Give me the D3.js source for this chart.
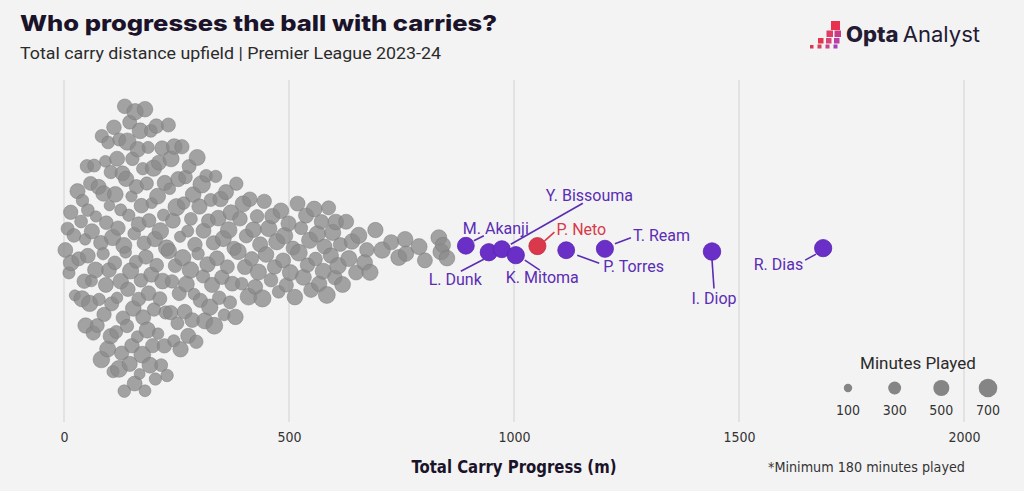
<!DOCTYPE html>
<html><head><meta charset="utf-8">
<script src="https://cdn.jsdelivr.net/npm/d3@7"></script>
<style>body{margin:0;background:#f3f3f3;overflow:hidden}</style>
</head><body><svg id="c" width="1024" height="491"></svg>
<script>
// ---------- DATA ----------
const grayCarry = [
  3, 8, 11, 15, 16, 22, 24, 30, 33, 38,
  40, 41, 45, 47, 48, 51, 53, 53, 57, 59,
  61, 62, 65, 67, 70, 71, 74, 77, 78, 82,
  83, 84, 87, 88, 89, 92, 93, 94, 97, 98,
  100, 101, 104, 104, 106, 108, 109, 111, 113, 114,
  116, 118, 118, 120, 122, 123, 126, 126, 128, 130,
  131, 133, 134, 135, 137, 138, 140, 141, 142, 144,
  146, 146, 148, 150, 151, 152, 154, 156, 157, 158,
  160, 161, 163, 164, 166, 166, 168, 169, 171, 172,
  174, 175, 176, 178, 180, 180, 182, 184, 185, 187,
  188, 189, 191, 193, 194, 195, 197, 199, 200, 202,
  203, 205, 206, 208, 209, 211, 213, 214, 216, 218,
  219, 221, 223, 224, 226, 228, 229, 232, 233, 235,
  237, 238, 240, 242, 244, 245, 247, 250, 252, 254,
  256, 258, 259, 262, 264, 266, 268, 270, 272, 275,
  276, 278, 281, 282, 285, 287, 289, 291, 294, 296,
  298, 301, 303, 306, 309, 310, 313, 316, 319, 321,
  324, 326, 329, 332, 334, 337, 340, 343, 345, 348,
  351, 354, 356, 360, 363, 366, 369, 371, 374, 378,
  381, 383, 387, 391, 395, 398, 402, 405, 410, 413,
  417, 421, 425, 429, 432, 436, 441, 445, 449, 455,
  460, 463, 468, 473, 477, 482, 487, 490, 494, 499,
  503, 509, 513, 519, 522, 527, 532, 538, 541, 546,
  549, 556, 559, 563, 567, 572, 576, 579, 584, 588,
  593, 597, 602, 604, 609, 614, 619, 627, 633, 640,
  649, 655, 668, 673, 680, 692, 707, 727, 744, 758,
  760, 789, 802, 833, 838, 842, 851
];
const grayMinutes = [
  420, 310, 260, 390, 480, 350, 205, 440, 370, 300,
  510, 280, 395, 230, 460, 335, 415, 290, 520, 365,
  250, 445, 380, 305, 490, 215, 360, 430, 275, 400,
  540, 320, 270, 470, 385, 240, 425, 350, 500, 295,
  410, 190, 455, 330, 375, 520, 265, 405, 345, 480,
  300, 435, 225, 390, 560, 315, 470, 255, 380, 425,
  350, 505, 285, 410, 240, 455, 330, 600, 395, 270,
  445, 360, 515, 220, 400, 335, 475, 290, 420, 530,
  310, 385, 250, 465, 355, 420, 200, 490, 340, 405,
  565, 280, 430, 375, 245, 470, 395, 320, 510, 260,
  415, 350, 485, 295, 440, 210, 380, 525, 330, 455,
  270, 400, 345, 495, 230, 425, 365, 545, 300, 410,
  480, 255, 390, 440, 320, 515, 280, 370, 460, 235,
  395, 505, 330, 420, 265, 475, 350, 580, 300, 440,
  370, 215, 455, 390, 520, 285, 410, 345, 490, 255,
  430, 360, 540, 300, 415, 470, 240, 395, 335, 500,
  275, 450, 380, 610, 325, 425, 505, 290, 460, 360,
  525, 310, 440, 385, 560, 270, 415, 480, 340, 455,
  395, 500, 250, 435, 365, 545, 310, 470, 420, 380,
  460, 330, 515, 405, 285, 495, 430, 360, 550, 400,
  375, 480, 420, 330, 510, 445, 585, 390, 470, 525,
  350, 455, 400, 520, 290, 475, 430, 540, 380, 445,
  500, 365, 470, 425, 555, 310, 490, 440, 395, 520,
  410, 480, 345, 530, 460, 390, 500, 425, 565, 370,
  450, 515, 400, 475, 545, 360, 490, 430, 505, 470,
  420, 520, 480, 395, 510, 455, 530, 440, 495, 470,
  460, 505, 430, 490, 520, 450, 480
];
const highlightNames   = ["M. Akanji","L. Dunk","Y. Bissouma","K. Mitoma","P. Neto","P. Torres","T. Ream","I. Diop","R. Dias"];
const highlightCarry   = [893, 944, 973, 1004, 1052, 1116, 1202, 1440, 1687];
const highlightMinutes = [560, 590, 570, 590, 580, 560, 580, 610, 590];
const redPlayer = "P. Neto";
const xTicks = [0, 500, 1000, 1500, 2000];
const legendMinutes = [100, 300, 500, 700];

// ---------- LAYOUT / STYLE ----------
const labelLayout = {
  "M. Akanji":   {tx:-3,  ty:-12, anchor:"start",  l:[8,-5,18,-10]},
  "L. Dunk":     {tx:-7,  ty:33,  anchor:"end",    l:[-5,7,-28,19]},
  "Y. Bissouma": {tx:44,  ty:-48, anchor:"start",  l:[9,-5,81,-46]},
  "K. Mitoma":   {tx:-10, ty:28,  anchor:"start",  l:[9,5,24,15]},
  "P. Neto":     {tx:19,  ty:-11, anchor:"start",  l:[7,-5,17,-14]},
  "P. Torres":   {tx:37,  ty:22,  anchor:"start",  l:[11,5,33,13]},
  "T. Ream":     {tx:28,  ty:-8,  anchor:"start",  l:[10,-5,26,-11]},
  "I. Diop":     {tx:2,   ty:52,  anchor:"middle", l:[0,8,2,37]},
  "R. Dias":     {tx:-20, ty:22,  anchor:"end",    l:[-7,6,-18,12]}
};
const PURPLE = "#6a2fc6", PURPLE_TXT = "#5b2db3", RED = "#d9394a";
const narrow = "'Liberation Sans Narrow','Arial Narrow','DejaVu Sans Condensed',sans-serif";
const labelFont = "Roboto,'Noto Sans',sans-serif";

const svg = d3.select("#c");
svg.append("rect").attr("width",1024).attr("height",491).attr("fill","#f3f3f3");

const x = d3.scaleLinear().domain([0, 2000]).range([64, 964]);
const r = d3.scaleSqrt().domain([100, 700]).range([4.2, 9.3]);
const cy = 250, halfWidth = 150;

// gridlines
svg.append("g").selectAll("line").data(xTicks).join("line")
  .attr("x1", d => x(d)).attr("x2", d => x(d))
  .attr("y1", 80).attr("y2", 422)
  .attr("stroke", "#dcdcdc").attr("stroke-width", 1.5);

// axis tick labels
const axis = d3.axisBottom(x).tickValues(xTicks).tickFormat(d3.format("d")).tickSize(0).tickPadding(0);
const ag = svg.append("g").attr("transform", "translate(0,432)").call(axis);
ag.select(".domain").remove();
ag.selectAll("text").attr("font-family", narrow).attr("font-size", 14)
  .attr("fill", "#333").attr("dy", "0.71em");

// ---------- quasirandom (violin) offsets ----------
const nodes = grayCarry.map((c, i) => ({carry:c, minutes:grayMinutes[i], hi:false}))
  .concat(highlightCarry.map((c, i) => ({carry:c, minutes:highlightMinutes[i], hi:true, name:highlightNames[i]})));
const vals = nodes.map(d => d.carry);
const n = vals.length;
const sorted = vals.slice().sort(d3.ascending);
const sd = d3.deviation(vals);
const iqr = d3.quantile(sorted, 0.75) - d3.quantile(sorted, 0.25);
const bw = 0.9 * Math.min(sd, iqr / 1.34) * Math.pow(n, -0.2) * 0.5;
const kde = v => d3.sum(vals, xi => Math.exp(-0.5 * ((v - xi) / bw) ** 2));
const lo = sorted[0] - 3 * bw, hiV = sorted[n - 1] + 3 * bw;
const maxD = d3.max(d3.range(512), i => kde(lo + i * (hiV - lo) / 511));
function vdc(k){ let v = 0, den = 1; while (k > 0){ den *= 2; v += (k % 2) / den; k = Math.floor(k / 2); } return v; }
const order = d3.range(n).sort((a, b) => (vals[a] - vals[b]) || (a - b));
order.forEach((idx, rank) => {
  const d = nodes[idx];
  d.px = x(d.carry);
  d.py = cy + (kde(d.carry) / maxD) * (vdc(rank + 1) - 0.5) * 2 * halfWidth;
});

// gray circles
svg.append("g").selectAll("circle").data(nodes.filter(d => !d.hi)).join("circle")
  .attr("cx", d => d.px).attr("cy", d => d.py).attr("r", d => r(d.minutes))
  .attr("fill", "#8a8a8a").attr("fill-opacity", 0.78)
  .attr("stroke", "#7a7a7a").attr("stroke-opacity", 0.6).attr("stroke-width", 0.8);

// highlighted
const hiNodes = nodes.filter(d => d.hi);
svg.append("g").selectAll("circle").data(hiNodes).join("circle")
  .attr("cx", d => d.px).attr("cy", d => d.py).attr("r", d => r(d.minutes))
  .attr("fill", d => d.name === redPlayer ? RED : PURPLE)
  .attr("stroke", d => d.name === redPlayer ? "#c22f3f" : "#5a23b0").attr("stroke-width", 0.8);

// label lines + text
const lg = svg.append("g");
hiNodes.forEach(d => {
  const L = labelLayout[d.name];
  const col = d.name === redPlayer ? RED : PURPLE_TXT;
  lg.append("line")
    .attr("x1", d.px + L.l[0]).attr("y1", d.py + L.l[1])
    .attr("x2", d.px + L.l[2]).attr("y2", d.py + L.l[3])
    .attr("stroke", col).attr("stroke-width", 1.6);
  lg.append("text").attr("x", d.px + L.tx).attr("y", d.py + L.ty)
    .attr("text-anchor", L.anchor).attr("font-family", labelFont).attr("font-size", 16)
    .attr("fill", col).text(d.name);
});

// ---------- titles ----------
svg.append("text").attr("x", 20).attr("y", 31)
  .attr("font-family", "Inter,'Noto Sans',sans-serif").attr("font-weight", 800).attr("font-size", 22)
  .attr("fill", "#1b1329").attr("textLength", 477).attr("lengthAdjust", "spacingAndGlyphs")
  .text("Who progresses the ball with carries?");
svg.append("text").attr("x", 20).attr("y", 59)
  .attr("font-family", "Roboto,'Noto Sans',sans-serif").attr("font-size", 17)
  .attr("fill", "#2b2b2b").attr("textLength", 421).attr("lengthAdjust", "spacingAndGlyphs")
  .text("Total carry distance upfield | Premier League 2023-24");

svg.append("text").attr("x", 514).attr("y", 473).attr("text-anchor", "middle")
  .attr("font-family", narrow).attr("font-weight", 700).attr("font-size", 17)
  .attr("fill", "#1b1329").attr("textLength", 205).attr("lengthAdjust", "spacingAndGlyphs")
  .text("Total Carry Progress (m)");
svg.append("text").attr("x", 965).attr("y", 472).attr("text-anchor", "end")
  .attr("font-family", narrow).attr("font-size", 14)
  .attr("fill", "#333").attr("textLength", 197).attr("lengthAdjust", "spacingAndGlyphs")
  .text("*Minimum 180 minutes played");

// ---------- legend ----------
const lx = d3.scalePoint().domain(legendMinutes).range([848, 988]);
svg.append("text").attr("x", 918).attr("y", 369).attr("text-anchor", "middle")
  .attr("font-family", labelFont).attr("font-size", 17).attr("fill", "#2b2b2b")
  .text("Minutes Played");
svg.append("g").selectAll("circle").data(legendMinutes).join("circle")
  .attr("cx", d => lx(d)).attr("cy", 388).attr("r", d => r(d)).attr("fill", "#858585");
svg.append("g").selectAll("text").data(legendMinutes).join("text")
  .attr("x", d => lx(d)).attr("y", 415).attr("text-anchor", "middle")
  .attr("font-family", narrow).attr("font-size", 14).attr("fill", "#333").text(d => d);

// ---------- logo ----------
const logo = svg.append("g");
const sq = [[831,21,9,"#e8304f"],[826.5,30.5,6.5,"#e23c64"],[834.5,30.5,6.5,"#c93a8c"],
  [818,38,5.5,"#e2364f"],[826,38,5.5,"#d84476"],[834,38,5.5,"#b93fa5"],
  [810,45,3.5,"#e0364a"],[817.5,44.5,4,"#d8405f"],[825.5,44.5,4,"#c9458a"],[833.5,44.5,4,"#a441b8"]];
sq.forEach(s => logo.append("rect").attr("x", s[0]).attr("y", s[1]).attr("width", s[2]).attr("height", s[2]).attr("fill", s[3]));
logo.append("text").attr("x", 846).attr("y", 42)
  .attr("font-family", "Inter,'Noto Sans',sans-serif").attr("font-size", 21).attr("fill", "#231a33")
  .attr("textLength", 134).attr("lengthAdjust", "spacingAndGlyphs")
  .html("<tspan font-weight='800'>Opta</tspan><tspan dx='4' font-weight='400'>Analyst</tspan>");
</script>
</body></html>
